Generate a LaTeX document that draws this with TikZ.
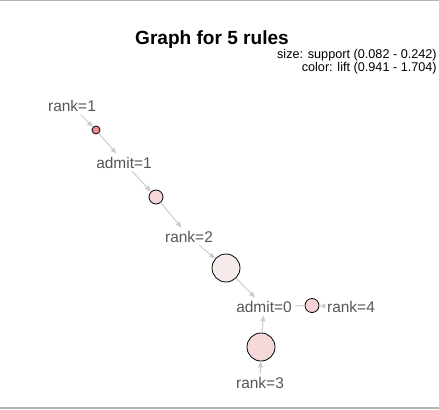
\documentclass[tikz,border=0pt]{standalone}
\usepackage{fontspec}
\setmainfont{Liberation Sans}
\usetikzlibrary{arrows.meta}
\definecolor{lbl}{HTML}{555555}
\definecolor{edgecol}{HTML}{CCCCCC}
\definecolor{framecol}{HTML}{B4B4B4}
\definecolor{fillA}{HTML}{F28C92}
\definecolor{fillB}{HTML}{F6D6D7}
\definecolor{fillC}{HTML}{F5EBEB}
\definecolor{fillD}{HTML}{F5D2D4}
\definecolor{fillE}{HTML}{F5D9DA}
\begin{document}
\begin{tikzpicture}[x=0.75pt,y=-0.75pt,
  item/.style={font=\fontsize{11.6}{13}\selectfont, text=lbl, inner sep=2.25pt, text height=8.4pt, text depth=0pt},
  rulenode/.style={circle, draw=black, line width=0.6pt, inner sep=0pt},
  link/.style={draw=edgecol, line width=0.75pt, -{Triangle[length=4.5pt,width=3.6pt]}},
  plainlink/.style={draw=edgecol, line width=0.75pt},
  frameline/.style={draw=framecol}]
\useasboundingbox (0,0) rectangle (439,410);
% frame lines
\coordinate (tl) at (0,0.6);
\coordinate (tr) at (439,0.6);
\coordinate (bl) at (0,408);
\coordinate (br) at (439,408);
\draw[frameline, line width=0.9pt] (tl) -- (tr);
\draw[frameline, line width=1.5pt] (bl) -- (br);
% title and legend
\node[font=\bfseries\fontsize{14.3}{16}\selectfont, anchor=base] (title) at (212,45) {Graph for 5 rules};
\node[font=\fontsize{9.5}{11}\selectfont, anchor=base east, inner sep=0pt] (leg1) at (437,59) {size: support (0.082 - 0.242)};
\node[font=\fontsize{9.5}{11}\selectfont, anchor=base east, inner sep=0pt] (leg2) at (437,72) {color: lift (0.941 - 1.704)};
% item nodes
\node[item] (r1) at (72,106) {rank=1};
\node[item] (a1) at (124,162.5) {admit=1};
\node[item] (r2) at (189,236.5) {rank=2};
\node[item] (a0) at (264,306.5) {admit=0};
\node[item] (r4) at (351,307) {rank=4};
\node[item] (r3) at (260,382.5) {rank=3};
% rule nodes
\node[rulenode, minimum size=6pt, fill=fillA] (c1) at (96,130) {};
\node[rulenode, minimum size=10.5pt, fill=fillB] (c2) at (156,197) {};
\node[rulenode, minimum size=21pt, fill=fillC] (c3) at (226,268) {};
\node[rulenode, minimum size=10.5pt, fill=fillD] (c4) at (312,305.5) {};
\node[rulenode, minimum size=21pt, fill=fillE] (c5) at (261,347) {};
% edges
\begin{scope}[on background layer/.try]
\end{scope}
\draw[link] (r1) -- (c1);
\draw[link] (c1) -- (a1);
\draw[link] (a1) -- (c2);
\draw[link] (c2) -- (r2);
\draw[link] (r2) -- (c3);
\draw[link] (c3) -- (a0);
\draw[link] (r4) -- (c4);
\draw[plainlink] (c4) -- (a0);
\draw[link] (r3) -- (c5);
\draw[link] (c5) -- (a0);
\end{tikzpicture}
\end{document}
